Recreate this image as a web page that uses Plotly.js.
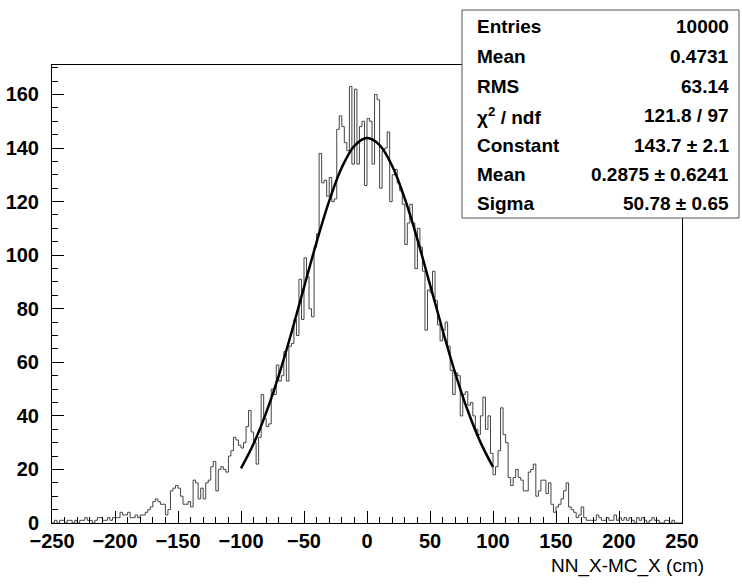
<!DOCTYPE html>
<html>
<head>
<meta charset="utf-8">
<script src="https://cdn.plot.ly/plotly-3.0.1.min.js"></script>
<style>html,body{margin:0;padding:0;background:#fff;}#chart{width:742px;height:585px;}</style>
</head>
<body>
<div id="chart"></div>
<script>
// Histogram definition: 250 bins of width 2 from -250 to 250
const xMin = -250;
const xMax = 250;
const binWidth = 2;

// Bin contents (bins ordered by left edge)
const countsTailLeft = [0,1,0,1,1,0,1,1,0,1,0,1,1,2,1,1,0,1,2,2,1,1,2,1,2];          // -250 .. -202
const countsRiseFar  = [2,2,4,3,3,4,2,2,3,2,3,3,4,5,6,8,9,8,7,7,3,5,12,13,14];         // -200 .. -152
const countsRiseMid  = [13,10,7,7,8,6,16,15,9,13,9,15,16,21,23,12,20,21,20,19,25,27,32,31,29,28]; // -150 .. -100
const countsRiseNear = [30,36,42,34,30,22,32,48,39,36,37,50,48,59,53,55,64,53,66,67,76,70,91,76,99]; // -98 .. -50
const countsPeakLeft = [92,80,77,103,108,138,127,128,122,129,120,121,147,152,148,142,139,163,134,162,134,148,150,126]; // -48 .. -2
const countsPeakRight= [151,150,134,160,158,125,139,140,146,120,130,132,127,124,119,104,112,119,112,95,110,103,94,72,87]; // 0 .. 48
const countsFallNear = [86,94,83,74,68,72,75,66,57,48,56,55,40,48,49,44,45,40,35,33,40,47,35,40,26,18]; // 50 .. 100
const countsFallMid  = [21,27,43,33,30,17,14,17,20,17,16,12,12,19,20,22,10,12,16,16,11,15,7,4,6,7]; // 102 .. 152
const countsFallFar  = [9,12,15,6,5,4,2,3,6,2,1,1,1,1,3,2,1,1,2,1,1,3,1,2,1,2];        // 154 .. 204
const countsTailRight= [1,2,1,0,2,1,2,1,0,1,2,1,1,0,0,1,1,0,1,0,0,0];                  // 206 .. 248

// Gaussian fit curve (fit range -100..100)
const fitX = [-100,-90,-80,-70,-60,-50,-40,-30,-20,-10,0,10,20,30,40,50,60,70,80,90,100];
const fitY = [20.4,29.6,41.2,55.1,71.0,88.0,104.9,120.3,132.7,140.8,143.7,141.1,133.3,121.1,105.9,89.0,72.0,56.0,41.9,30.2,20.9];

// Statistics box text
const statLabels = ["Entries","Mean","RMS","χ<sup>2</sup> / ndf","Constant","Mean","Sigma"];
const statValues = ["10000","0.4731","63.14","121.8 / 97","143.7 ± 2.1","0.2875 ± 0.6241","50.78 ± 0.65"];

const xTickVals = [-250,-200,-150,-100,-50,0,50,100,150,200,250];
const yTickVals = [0,20,40,60,80,100,120,140,160];
const xTitle = "NN_X-MC_X (cm)";

const counts = [].concat(countsTailLeft,countsRiseFar,countsRiseMid,countsRiseNear,countsPeakLeft,
                         countsPeakRight,countsFallNear,countsFallMid,countsFallFar,countsTailRight);

// Step outline
const hx = [xMin], hy = [0];
for (let i = 0; i < counts.length; i++) { hx.push(xMin + i*binWidth); hy.push(counts[i]); }
hx.push(xMax); hy.push(counts[counts.length-1]);
hx.push(xMax); hy.push(0);

const FONT = 'Liberation Sans, Arial, Helvetica, sans-serif';

const traces = [
  {x: hx, y: hy, type: 'scatter', mode: 'lines', line: {shape: 'hv', color: '#444', width: 1}, hoverinfo: 'skip'},
  {x: fitX, y: fitY, type: 'scatter', mode: 'lines', line: {shape: 'spline', smoothing: 1, color: '#000', width: 2.5}, hoverinfo: 'skip'}
];

// plot area pixel geometry
const L = 52, R = 682, T = 65, B = 523;
const px = v => (v - L) / (R - L);
const py = v => (B - v) / (B - T);

const rowY = [27, 56.5, 86, 115.5, 145, 174.5, 203];
const annotations = [];
for (let i = 0; i < statLabels.length; i++) {
  annotations.push({xref:'paper', yref:'paper', x: px(475), y: py(rowY[i]), xanchor:'left', yanchor:'middle',
    text: statLabels[i], showarrow:false, font:{family:FONT, size:19, color:'#000', weight:'bold'}});
  annotations.push({xref:'paper', yref:'paper', x: px(731), y: py(rowY[i]), xanchor:'right', yanchor:'middle',
    text: statValues[i], showarrow:false, font:{family:FONT, size:19, color:'#000', weight:'bold'}});
}
annotations.push({xref:'paper', yref:'paper', x: px(706), y: py(566), xanchor:'right', yanchor:'middle',
  text: xTitle, showarrow:false, font:{family:FONT, size:19, color:'#000'}});

const layout = {
  width: 742, height: 585, autosize: false,
  margin: {l: L, r: 742 - R, t: T, b: 585 - B, pad: 0},
  paper_bgcolor: '#fff', plot_bgcolor: '#fff',
  showlegend: false,
  xaxis: {
    range: [xMin, xMax], tickvals: xTickVals, ticks: 'inside', ticklen: 12, tickwidth: 1, tickcolor: '#000',
    showline: true, linecolor: '#000', linewidth: 1, mirror: true, showgrid: false, zeroline: false,
    tickfont: {family: FONT, size: 20, color: '#000', weight: 'bold'},
    minor: {dtick: 10, tick0: -250, ticks: 'inside', ticklen: 6, tickwidth: 1, tickcolor: '#000', showgrid: false}
  },
  yaxis: {
    range: [0, 171], tickvals: yTickVals, ticks: 'inside', ticklen: 12, tickwidth: 1, tickcolor: '#000',
    showline: true, linecolor: '#000', linewidth: 1, mirror: true, showgrid: false, zeroline: false,
    tickfont: {family: FONT, size: 20, color: '#000', weight: 'bold'}, ticklabelstandoff: 8,
    minor: {dtick: 5, tick0: 0, ticks: 'inside', ticklen: 6, tickwidth: 1, tickcolor: '#000', showgrid: false}
  },
  shapes: [
    {type: 'rect', xref: 'paper', yref: 'paper', x0: px(462), x1: px(739), y0: py(218), y1: py(10),
     fillcolor: '#fff', line: {color: '#555', width: 1}, layer: 'above'}
  ],
  annotations: annotations
};

Plotly.newPlot('chart', traces, layout, {displayModeBar: false, staticPlot: true});
</script>
</body>
</html>
